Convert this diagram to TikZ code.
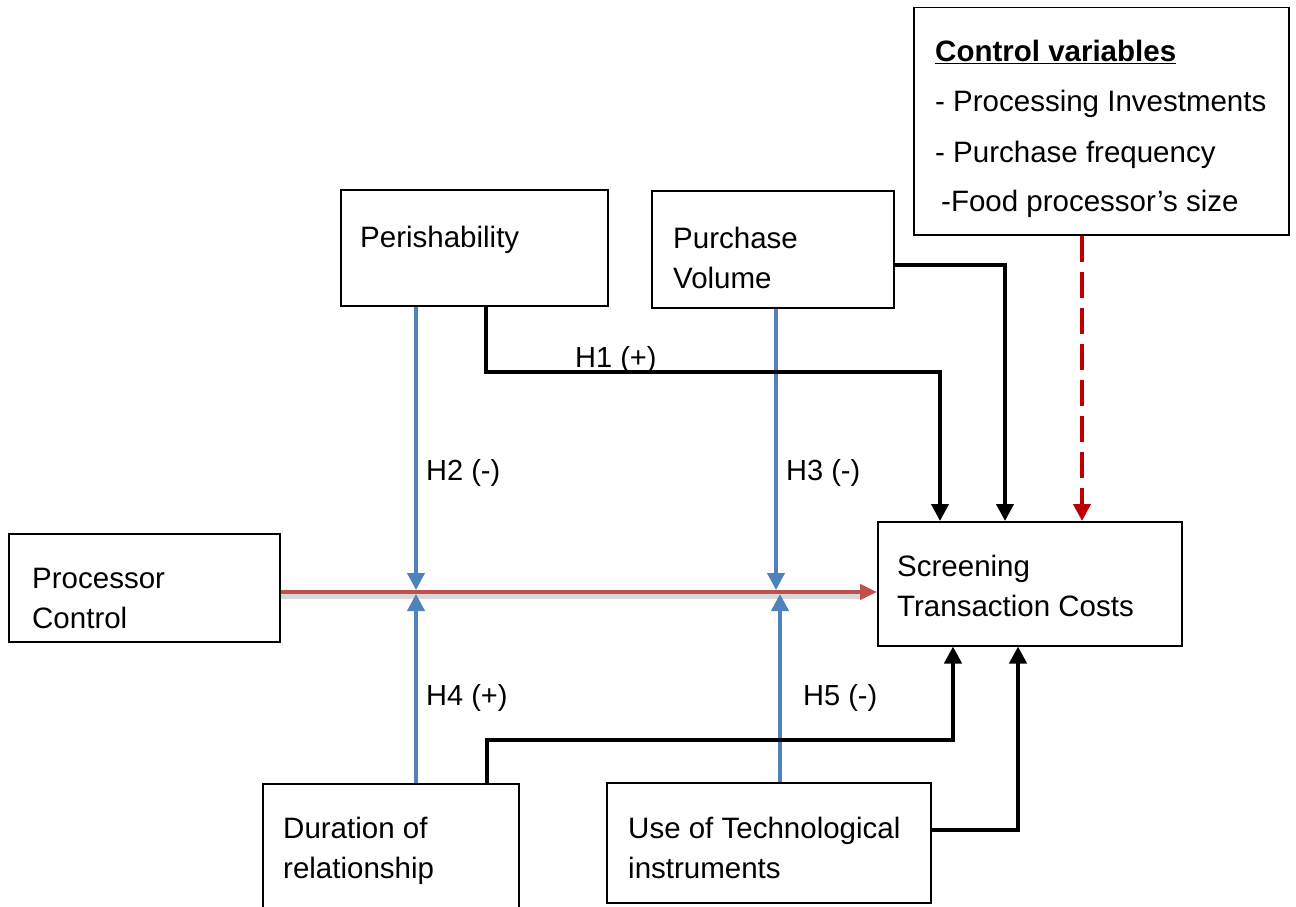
\documentclass[tikz,border=0pt]{standalone}
\usepackage{fontspec}
\setmainfont{Liberation Sans}
\usetikzlibrary{arrows.meta}
\definecolor{bluel}{HTML}{4F81BD}
\definecolor{redl}{HTML}{C0504D}
\definecolor{darkred}{HTML}{C00000}
\begin{document}
\begin{tikzpicture}[x=1pt,y=-1pt,
  box/.style={draw=black,line width=1.5pt,fill=white,anchor=north west,inner sep=0pt},
  txt/.style={anchor=base west,inner sep=0pt,font=\fontsize{29.5}{40}\selectfont},
  blu/.style={draw=bluel,line width=4pt,-{Triangle[length=17pt,width=17pt]}},
  blk/.style={draw=black,line width=4pt,-{Triangle[length=17pt,width=17pt]}},
  redarrow/.style={draw=redl,line width=4.5pt,-{Triangle[length=17pt,width=15pt]}},
  dashred/.style={draw=darkred,line width=4pt,dash pattern=on 26pt off 10pt,-{Triangle[length=17pt,width=17pt]}},
  hlab/.style={anchor=base west,inner sep=0pt,font=\fontsize{29}{34}\selectfont}]
\useasboundingbox (0,0) rectangle (1296,907);
% boxes
\node[box,minimum width=375pt,minimum height=227pt] (ctrl) at (913,7) {};
\node[box,minimum width=267pt,minimum height=116pt] (peri) at (340,189) {};
\node[box,minimum width=242pt,minimum height=117pt] (pv) at (651,190) {};
\node[box,minimum width=271pt,minimum height=108pt] (pc) at (8,533) {};
\node[box,minimum width=304pt,minimum height=124pt] (stc) at (877,521) {};
\node[box,minimum width=256pt,minimum height=130pt] (dur) at (262,783) {};
\node[box,minimum width=324pt,minimum height=120pt] (ute) at (606,782) {};
% texts
\node[txt] (ct1) at (935,62) {\textbf{\underline{Control variables}}};
\node[txt] (ct2) at (935,111) {- Processing Investments};
\node[txt] (ct3) at (935,162) {- Purchase frequency};
\node[txt] (ct4) at (941,211) {-Food processor’s size};
\node[txt] (tperi) at (360,247) {Perishability};
\node[txt] (tpv1) at (673,248) {Purchase};
\node[txt] (tpv2) at (673,288) {Volume};
\node[txt] (tpc1) at (32,588) {Processor};
\node[txt] (tpc2) at (32,628) {Control};
\node[txt] (tstc1) at (897,576) {Screening};
\node[txt] (tstc2) at (897,616) {Transaction Costs};
\node[txt] (tdur1) at (283,838) {Duration of};
\node[txt] (tdur2) at (283,878) {relationship};
\node[txt] (tute1) at (628,838) {Use of Technological};
\node[txt] (tute2) at (628,878) {instruments};
% meeting points
\coordinate (m1) at (416,592);
\coordinate (m2) at (778,592);
% red main arrow with shadow
\draw[line width=6pt,draw=black!30,opacity=0.5] ([yshift=-4pt]pc.east |- m1) -- ([yshift=-4pt,xshift=-14pt]stc.west |- m1);
\draw[redarrow] (pc.east |- m1) -- (stc.west |- m1);
% blue moderators
\draw[blu] (416,0 |- peri.south) -- ([yshift=2pt]m1);
\draw[blu] (776,0 |- pv.south) -- ([yshift=2pt,xshift=-2pt]m2);
\draw[blu] (416,0 |- dur.north) -- ([yshift=-2pt]m1);
\draw[blu] (780,0 |- ute.north) -- ([yshift=-2pt,xshift=2pt]m2);
% black direct effects
\draw[blk] (486,0 |- peri.south) -- (486,372) -- (940,372) -- (940,0 |- stc.north);
\draw[blk] (pv.east |- 0,265) -- (1005,265) -- (1005,0 |- stc.north);
\draw[blk] (487,0 |- dur.north) -- (487,740) -- (953,740) -- (953,0 |- stc.south);
\draw[blk] (ute.east |- 0,830) -- (1018,830) -- (1018,0 |- stc.south);
% control variables
\draw[dashred] (1082,0 |- ctrl.south) -- (1082,0 |- stc.north);
% hypothesis labels
\node[hlab] (h1) at (575,367) {H1 (+)};
\node[hlab] (h2) at (426,480) {H2 (-)};
\node[hlab] (h3) at (786,480) {H3 (-)};
\node[hlab] (h4) at (426,705) {H4 (+)};
\node[hlab] (h5) at (803,705) {H5 (-)};
\end{tikzpicture}
\end{document}
